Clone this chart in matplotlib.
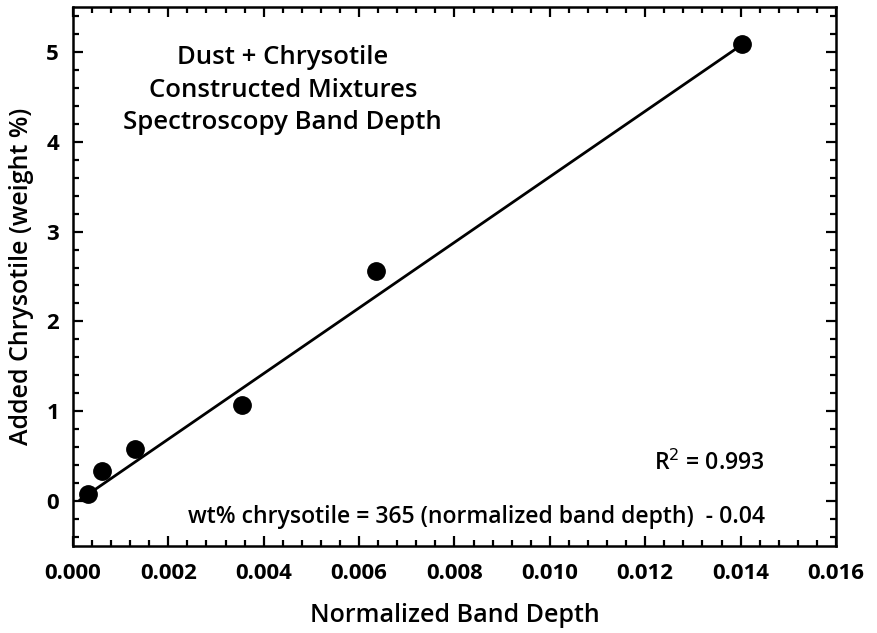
import numpy as np
import matplotlib.pyplot as plt
from matplotlib.ticker import MultipleLocator, FormatStrFormatter

# Band depth vs added chrysotile for the constructed mixtures
band_depth = [0.00031, 0.00061, 0.00131, 0.00354, 0.00635, 0.01402]
chrysotile_wt = [0.08, 0.33, 0.585, 1.07, 2.565, 5.09]

# Regression reported on the chart
slope = 365
intercept = -0.04
r_squared = 0.993
fit_range = [0.00015, 0.0139]

plt.rcParams['font.family'] = ['Open Sans', 'DejaVu Sans']

fig = plt.figure(figsize=(8.77, 6.33), dpi=100)
ax = fig.add_axes([0.0832, 0.1374, 0.87, 0.8516])

fx = np.array(fit_range)
ax.plot(fx, slope * fx + intercept, color='black', linewidth=2.0, zorder=2)
ax.plot(band_depth, chrysotile_wt, 'o', color='black', markersize=12.5, zorder=3)

ax.set_xlim(0, 0.016)
ax.set_ylim(-0.5, 5.5)
ax.xaxis.set_major_locator(MultipleLocator(0.002))
ax.xaxis.set_minor_locator(MultipleLocator(0.0004))
ax.yaxis.set_major_locator(MultipleLocator(1))
ax.yaxis.set_minor_locator(MultipleLocator(0.2))
ax.xaxis.set_major_formatter(FormatStrFormatter('%.3f'))
ax.tick_params(which='both', direction='in', top=True, right=True, width=1.6)
ax.tick_params(which='major', length=7, labelsize=16)
ax.tick_params(axis='x', which='major', pad=12)
ax.tick_params(axis='y', which='major', pad=10)
ax.tick_params(which='minor', length=4)
for lbl in ax.get_xticklabels() + ax.get_yticklabels():
    lbl.set_fontweight('bold')
for s in ax.spines.values():
    s.set_linewidth(1.8)

ax.set_xlabel('Normalized Band Depth', fontsize=18, fontweight='semibold', labelpad=14)
ax.set_ylabel('Added Chrysotile (weight %)', fontsize=18, fontweight='semibold', labelpad=9)

ax.text(0.275, 0.929, 'Dust + Chrysotile\nConstructed Mixtures\nSpectroscopy Band Depth',
        transform=ax.transAxes, ha='center', va='top', fontsize=18.5,
        fontweight='semibold', linespacing=1.4)
ax.text(0.907, 0.154, r'R$^2$ = %.3f' % r_squared, transform=ax.transAxes,
        ha='right', va='center', fontsize=16.6, fontweight='semibold')
eq = 'wt%% chrysotile = %d (normalized band depth)  - %.2f' % (slope, -intercept)
ax.text(0.907, 0.054, eq, transform=ax.transAxes, ha='right', va='center',
        fontsize=16.6, fontweight='semibold')

fig.savefig('out.png', dpi=100)
